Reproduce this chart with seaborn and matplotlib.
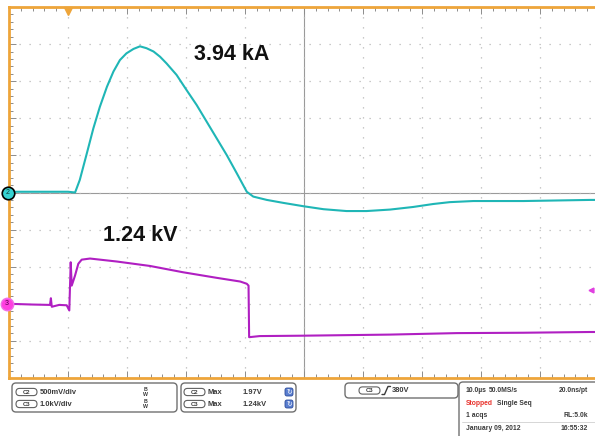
import matplotlib
matplotlib.use("Agg")
import numpy as np
import pandas as pd
import matplotlib.pyplot as plt
import seaborn as sns
from matplotlib.patches import FancyBboxPatch
from matplotlib.ticker import MultipleLocator

# ---- waveform data (time in us, 10 us/div, trigger at t=0)
t_c2 = [-10, -5, 0, 1.2, 2.0, 3.2, 4.3, 5.4, 6.6, 7.7, 8.8, 9.9, 11.1, 12.2,
        13.3, 14.5, 15.6, 16.7, 18.4, 20.1, 21.8, 23.5, 25.2, 26.9, 28.6, 30.3,
        31.4, 33.7, 36.5, 39.9, 43.3, 47.2, 50.6, 54.6, 58.5, 61.9, 64.7,
        68.7, 77.2, 88.5, 90]
i_c2 = [0.02, 0.02, 0.02, 0.0, 0.34, 1.06, 1.73, 2.31, 2.85, 3.26, 3.57, 3.75,
        3.87, 3.94, 3.89, 3.80, 3.66, 3.48, 3.17, 2.76, 2.36, 1.91, 1.46, 1.01,
        0.52, 0.02, -0.11, -0.20, -0.28, -0.37, -0.45, -0.50, -0.50,
        -0.46, -0.39, -0.31, -0.26, -0.23, -0.23, -0.20, -0.20]   # kA

t_c3 = [-10, -6, -3.05, -2.9, -2.75, -1.5, -0.22, 0.22, 0.46, 0.63, 1.19, 1.75,
        2.32, 3.73, 8.25, 13.9, 19.5, 25.2, 29.2, 30.3, 30.6, 30.7, 32.5, 39.6,
        54.6, 65.9, 77.2, 88.5, 90]
u_c3 = [0.0, -0.02, -0.03, 0.15, -0.08, -0.03, -0.04, -0.18, 1.12, 0.49, 0.76,
        1.08, 1.19, 1.22, 1.14, 1.02, 0.85, 0.70, 0.60, 0.54, 0.49, -0.90, -0.87,
        -0.86, -0.83, -0.79, -0.78, -0.76, -0.76]             # kV

C2_POS, C2_SCALE = 5.0, 1.0     # div, kA/div
C3_POS, C3_SCALE = 2.0, 1.0     # div, kV/div
TRIG_LEVEL = 0.38               # kV

CYAN = "#1fb6b6"
MAGENTA = "#b01fc2"
ORANGE = "#eea53a"

W, H = 595, 436

df_c2 = pd.DataFrame({"t": t_c2, "div": np.array(i_c2) / C2_SCALE + C2_POS})
df_c3 = pd.DataFrame({"t": t_c3, "div": np.array(u_c3) / C3_SCALE + C3_POS})

sns.set_style("white")
plt.rcParams["font.family"] = ["Liberation Sans", "DejaVu Sans"]

fig = plt.figure(figsize=(W / 100, H / 100), dpi=100)


def fr(x0, y0, x1, y1):
    return [x0 / W, 1 - y1 / H, (x1 - x0) / W, (y1 - y0) / H]


pos = fr(9, 7, 599, 378)

# center cross with ticks
ax2 = fig.add_axes(pos, zorder=0)
ax2.set_xlim(-10, 90)
ax2.set_ylim(0, 10)
ax2.set_facecolor("white")
ax2.spines["left"].set_position(("data", 40))
ax2.spines["bottom"].set_position(("data", 5))
for s in ["top", "right"]:
    ax2.spines[s].set_visible(False)
for s in ["left", "bottom"]:
    ax2.spines[s].set_color("#9a9a9a")
    ax2.spines[s].set_linewidth(0.8)
ax2.xaxis.set_major_locator(MultipleLocator(10))
ax2.xaxis.set_minor_locator(MultipleLocator(2))
ax2.yaxis.set_major_locator(MultipleLocator(1))
ax2.yaxis.set_minor_locator(MultipleLocator(0.2))
ax2.tick_params(which="both", direction="inout", color="#9a9a9a", width=0.7,
                labelbottom=False, labelleft=False)
ax2.tick_params(which="major", length=6)
ax2.tick_params(which="minor", length=4)

# main screen
ax = fig.add_axes(pos, zorder=1)
ax.set_facecolor("none")
sns.lineplot(data=df_c2, x="t", y="div", color=CYAN, lw=1.5, sort=False,
             estimator=None, ax=ax, zorder=4)
sns.lineplot(data=df_c3, x="t", y="div", color=MAGENTA, lw=1.5, sort=False,
             estimator=None, ax=ax, zorder=4)
ax.set_xlim(-10, 90)
ax.set_ylim(0, 10)
ax.set_xlabel("")
ax.set_ylabel("")
ax.xaxis.set_major_locator(MultipleLocator(10))
ax.xaxis.set_minor_locator(MultipleLocator(2))
ax.yaxis.set_major_locator(MultipleLocator(1))
ax.yaxis.set_minor_locator(MultipleLocator(0.2))
ax.grid(True, which="major", color="#b8b8b8", lw=0.9, ls=(0, (1, 7)))
ax.tick_params(which="both", direction="in", top=True, bottom=True, left=True,
               right=False, labelbottom=False, labelleft=False,
               color="#8c8c8c", width=0.7)
ax.tick_params(which="major", length=5)
ax.tick_params(which="minor", length=3)
ax.spines["right"].set_visible(False)
for s in ["top", "left", "bottom"]:
    ax.spines[s].set_color(ORANGE)
    ax.spines[s].set_linewidth(2)

ax.text(21.4, 8.71, "3.94 kA", fontsize=15.5, fontweight="bold",
        ha="left", va="center", color="#111111", zorder=5)
ax.text(5.9, 3.85, "1.24 kV", fontsize=15.5, fontweight="bold",
        ha="left", va="center", color="#111111", zorder=5)

# channel ground markers, trigger markers
ax.plot([-10.2], [C2_POS], "o", ms=9, mfc="#36d2d2", mec="black", mew=1.2,
        clip_on=False, zorder=6)
ax.text(-10.2, C2_POS, "2", fontsize=5, ha="center", va="center",
        color="#0d3b3b", zorder=7, clip_on=False)
ax.plot([-10.4], [C3_POS], "o", ms=9, mfc="#ff3fe0", mec="#f070e8", mew=1,
        clip_on=False, zorder=6)
ax.text(-10.4, C3_POS, "3", fontsize=5, ha="center", va="center",
        color="#5a0050", zorder=7, clip_on=False)
ax.plot([0], [9.88], marker="v", ms=6, color=ORANGE, clip_on=False, zorder=6)
ax.plot([88.6], [C3_POS + TRIG_LEVEL], marker="<", ms=3.5, color="#e040e0",
        clip_on=False, zorder=6)

# ---- bottom readout panel (pixel coordinates)
ui = fig.add_axes([0, 0, 1, 1], zorder=2)
ui.set_xlim(0, W)
ui.set_ylim(H, 0)
ui.axis("off")
ui.set_facecolor("none")

TXT = "#3a3a3a"


def box(x0, y0, x1, y1, r=4):
    ui.add_patch(FancyBboxPatch((x0, y0), x1 - x0, y1 - y0,
                                boxstyle=f"round,pad=0,rounding_size={r}",
                                fc="white", ec="#707070", lw=1.0))


def pill(x0, cy, label):
    ui.add_patch(FancyBboxPatch((x0, cy - 3.6), 21, 7.2,
                                boxstyle="round,pad=0,rounding_size=3.6",
                                fc="white", ec="#606060", lw=0.8))
    ui.text(x0 + 10.5, cy + 0.3, label, fontsize=4.2, fontweight="bold",
            ha="center", va="center", color=TXT)


def t(x, y, s, ha="left", color=TXT, size=5.4):
    ui.text(x, y, s, fontsize=size, fontweight="bold", ha=ha, va="center",
            color=color)


def knob(x, y):
    ui.add_patch(FancyBboxPatch((x - 4, y - 4), 8, 8,
                                boxstyle="round,pad=0,rounding_size=2",
                                fc="#5b7fd0", ec="#2a4a9a", lw=0.6))
    ui.text(x, y, "\u21bb", fontsize=5, ha="center", va="center",
            color="white", family="DejaVu Sans")


box(12, 383, 177, 412)
pill(16, 392, "C2")
t(40, 392, "500mV/div")
pill(16, 404, "C3")
t(40, 404, "1.0kV/div")
for y in (392, 404):
    ui.text(145.5, y, "B\nW", fontsize=3.8, fontweight="bold", ha="center",
            va="center", color=TXT, linespacing=0.85)

box(181, 383, 296, 412)
pill(184, 392, "C2")
t(208, 392, "Max")
t(243, 392, "1.97V")
knob(289, 392)
pill(184, 404, "C3")
t(208, 404, "Max")
t(243, 404, "1.24kV")
knob(289, 404)

box(345, 383, 458, 398)
pill(359, 390.5, "C3")
ui.plot([382, 384.5, 388, 390.5], [394.5, 394.5, 386.5, 386.5], color=TXT,
        lw=1.0)
t(392, 390.5, "380V")

PS = 4.9
box(459, 382, 610, 450)
t(466, 390, "10.0\u00b5s", size=PS)
t(489, 390, "50.0MS/s", size=PS)
t(588, 390, "20.0ns/pt", ha="right", size=PS)
t(466, 403, "Stopped", color="#e8302a", size=PS)
t(497, 403, "Single Seq", size=PS)
t(466, 415, "1 acqs", size=PS)
t(588, 415, "RL:5.0k", ha="right", size=PS)
ui.plot([462, 600], [422, 422], color="#d0d0d0", lw=0.6)
t(466, 428, "January 09, 2012", size=PS)
t(588, 428, "16:55:32", ha="right", size=PS)

fig.savefig("out.png", dpi=100)
